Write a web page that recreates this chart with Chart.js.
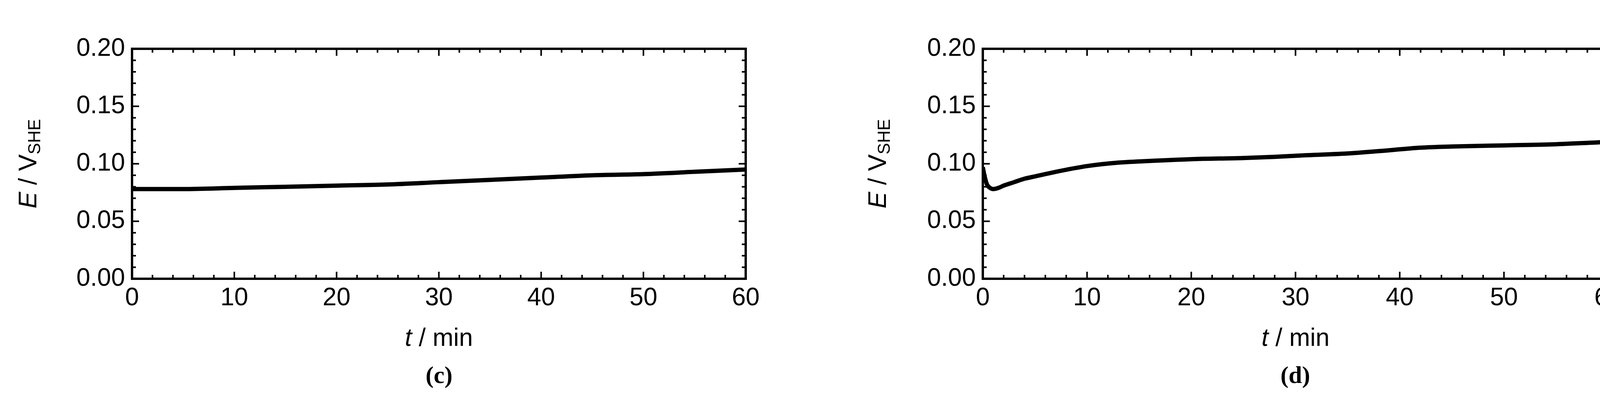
<!DOCTYPE html>
<html><head><meta charset="utf-8">
<script src="https://cdn.jsdelivr.net/npm/chart.js@4"></script>
<style>
body{margin:0;background:#fff;width:4175px;height:1022px;position:relative;overflow:hidden}
canvas{position:absolute;top:0}
.cap{position:absolute;top:925px;font:bold 62px "Liberation Serif";transform:translateX(-50%)}
</style></head><body>
<canvas id="c1" width="2000" height="1022" style="left:0;width:2000px;height:1022px"></canvas>
<canvas id="c2" width="2055" height="1022" style="left:2120px;width:2055px;height:1022px"></canvas>
<div class="cap" style="left:1124px">(c)</div>
<div class="cap" style="left:3316px">(d)</div>
<script>
const timeC=[0,2,5,10,15,20,25,30,35,40,45,50,55,60];
const potC=[0.078,0.078,0.078,0.079,0.080,0.081,0.082,0.084,0.086,0.088,0.090,0.091,0.093,0.095];
const timeD=[0,0.15,0.4,0.7,1,1.5,2,3,4,5,7,10,13,15,20,25,28,30,35,38,42,45,50,55,60];
const potD=[0.097,0.090,0.082,0.079,0.078,0.079,0.081,0.084,0.087,0.089,0.093,0.098,0.101,0.102,0.104,0.105,0.106,0.107,0.109,0.111,0.114,0.115,0.116,0.117,0.119];
const yTicks=[0,0.05,0.10,0.15,0.20];
const xTicks=[0,10,20,30,40,50,60];
const F='"Liberation Sans Narrow","Liberation Sans"';
const tickPlugin={id:'ticks',afterDraw(ch){
  const c=ch.ctx,a=ch.chartArea,x=ch.scales.x,y=ch.scales.y;
  c.save();c.strokeStyle='#000';c.lineWidth=4;c.beginPath();
  for(let v=0;v<=60;v+=2){const p=x.getPixelForValue(v),L=v%10===0?18:10;
    c.moveTo(p,a.bottom);c.lineTo(p,a.bottom-L);c.moveTo(p,a.top);c.lineTo(p,a.top+L);}
  for(let i=0;i<=20;i++){const v=i/100,p=y.getPixelForValue(v),L=i%5===0?18:10;
    c.moveTo(a.left,p);c.lineTo(a.left+L,p);c.moveTo(a.right,p);c.lineTo(a.right-L,p);}
  c.stroke();c.lineWidth=6;c.strokeRect(a.left,a.top,a.right-a.left,a.bottom-a.top);
  c.fillStyle='#000';c.translate(ch.options.titleX,(a.top+a.bottom)/2);c.rotate(-Math.PI/2);
  c.textBaseline='middle';c.textAlign='left';
  const parts=[['italic 64px '+F,'E'],['64px '+F,' / V']];
  const sub=['44px '+F,'SHE'];
  let tot=0;for(const p of parts){c.font=p[0];tot+=c.measureText(p[1]).width;}c.font=sub[0];tot+=c.measureText(sub[1]).width;
  let cx=-tot/2;for(const p of parts){c.font=p[0];c.fillText(p[1],cx,0);cx+=c.measureText(p[1]).width;}
  c.font=sub[0];c.fillText(sub[1],cx,16);
  c.restore();
  c.save();c.fillStyle='#000';c.textBaseline='middle';
  const mx=(a.left+a.right)/2,ty=868;c.font='italic 64px '+F;const t1='t';const w1=c.measureText(t1).width;
  c.font='64px '+F;const t2=' / min';const w2=c.measureText(t2).width;
  c.textAlign='left';c.font='italic 64px '+F;c.fillText(t1,mx-(w1+w2)/2,ty);c.font='64px '+F;c.fillText(t2,mx-(w1+w2)/2+w1,ty);
  c.restore();
}};
function make(id,xs,ys,yw,rightPad,titleX){
  const el=document.getElementById(id);
  new Chart(el,{type:'scatter',data:{datasets:[{data:xs.map((t,i)=>({x:t,y:ys[i]})),showLine:true,borderColor:'#000',borderWidth:11,pointRadius:0,cubicInterpolationMode:'monotone'}]},
  options:{responsive:false,devicePixelRatio:1,animation:false,titleX:titleX,layout:{padding:{top:125,right:rightPad,bottom:0,left:0}},
    plugins:{legend:{display:false},tooltip:{enabled:false}},
    scales:{x:{type:'linear',min:0,max:60,afterBuildTicks:s=>{s.ticks=xTicks.map(v=>({value:v}))},afterFit:s=>{s.height=308},
        grid:{display:false},border:{display:false},ticks:{color:'#000',font:{family:F,size:64},padding:4,maxRotation:0}},
      y:{min:0,max:0.2,afterBuildTicks:s=>{s.ticks=yTicks.map(v=>({value:v}))},afterFit:s=>{s.width=yw},
        grid:{display:false},border:{display:false},ticks:{color:'#000',font:{family:F,size:64},padding:10,callback:v=>v.toFixed(2)}}}},
  plugins:[tickPlugin]});
}
make('c1',timeC,potC,338,2000-1909,75);
make('c2',timeD,potD,2516-2120,2055-(4117-2120),2250-2120);
</script></body></html>
